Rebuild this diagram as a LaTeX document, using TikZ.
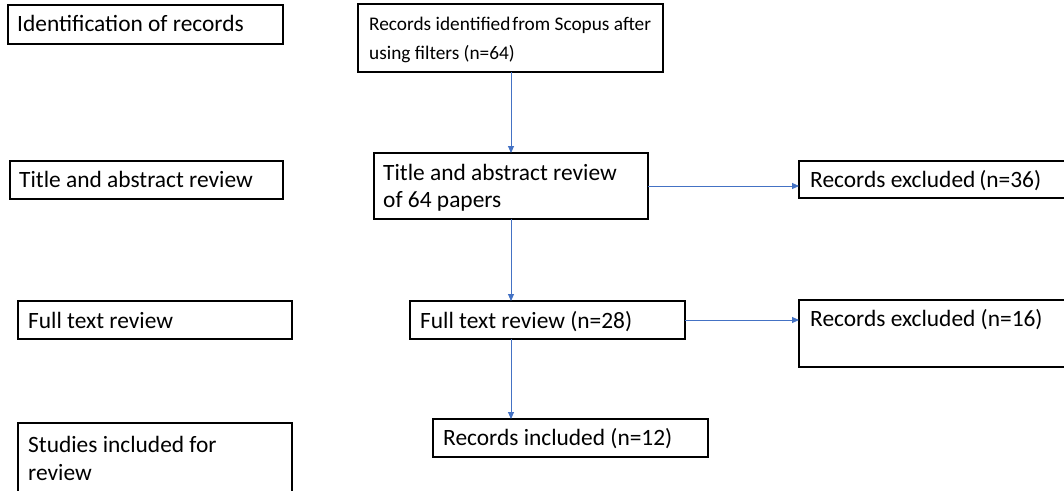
\documentclass[tikz,border=0pt]{standalone}
\usepackage{fontspec}
\setmainfont{Carlito}
\usetikzlibrary{arrows.meta,calc}
\definecolor{arrowblue}{RGB}{68,114,196}
\begin{document}
\begin{tikzpicture}[x=1pt,y=-1pt,
  box/.style={draw=black,line width=1.3pt,anchor=north west,inner sep=0pt,outer sep=0pt},
  txt/.style={anchor=base west,inner sep=0pt,font=\fontsize{23.4}{28}\selectfont,text=black},
  smalltxt/.style={anchor=base west,inner sep=0pt,font=\fontsize{19.3}{24}\selectfont,text=black},
  flow/.style={draw=arrowblue,line width=0.9pt,-{Triangle[length=7pt,width=6pt]}}]
\clip (0,0) rectangle (1064,490);
\fill[white] (0,0) rectangle (1064,490);
% left column
\node[box,minimum width=275pt,minimum height=39pt] (L1) at (8,5) {};
\node[txt] (L1t) at (17,31) {Identification of records};
\node[box,minimum width=273pt,minimum height=38pt] (L2) at (10,161) {};
\node[txt] (L2t) at (19,187) {Title and abstract review};
\node[box,minimum width=274pt,minimum height=38pt] (L3) at (18,301) {};
\node[txt] (L3t) at (28,328) {Full text review};
\node[box,minimum width=274pt,minimum height=90pt] (L4) at (18,423) {};
\node[txt] (L4a) at (28,452) {Studies included for};
\node[txt] (L4b) at (28,480) {review};
% main column
\node[box,minimum width=305pt,minimum height=68pt] (B1) at (358,4) {};
\node[smalltxt] (B1a) at (369,30) {Records identified\hspace{0.1em}from Scopus after};
\node[smalltxt] (B1b) at (369,59) {using filters (n=64)};
\node[box,minimum width=274pt,minimum height=66pt] (B2) at (374,153) {};
\node[txt] (B2a) at (383,180) {Title and abstract review};
\node[txt] (B2b) at (383,207) {of 64 papers};
\node[box,minimum width=275pt,minimum height=38pt] (B3) at (410,301) {};
\node[txt] (B3t) at (420,328) {Full text review (n=28)};
\node[box,minimum width=275pt,minimum height=38pt] (B4) at (433,419) {};
\node[txt] (B4t) at (443,445) {Records included (n=12)};
% excluded
\node[box,minimum width=280pt,minimum height=37pt] (E1) at (799,161) {};
\node[txt] (E1t) at (810,187) {Records excluded\,(n=36)};
\node[box,minimum width=280pt,minimum height=67pt] (E2) at (799,300) {};
\node[txt] (E2t) at (810,326) {Records excluded (n=16)};
% connectors
\draw[flow] (B2.north |- B1.south) -- (B2.north);
\draw[flow] (B2.east) -- (B2.east -| E1.west);
\draw[flow] (B2.south) -- (B2.south |- B3.north);
\draw[flow] (B3.east) -- (B3.east -| E2.west);
\draw[flow] (B2.south |- B3.south) -- (B2.south |- B4.north);
\end{tikzpicture}
\end{document}
